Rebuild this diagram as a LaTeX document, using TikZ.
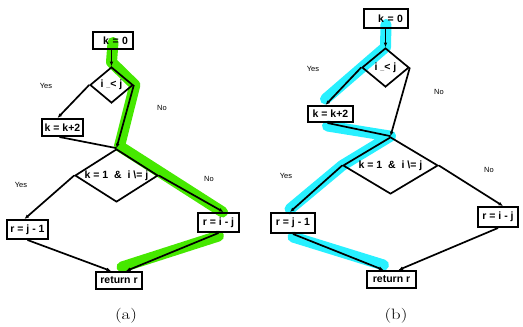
\documentclass[tikz,border=0pt]{standalone}
\usepackage{fontspec}
\setsansfont{Liberation Sans}
\usepackage{tikz}
\usetikzlibrary{arrows.meta}
\usetikzlibrary{shapes.geometric}
\definecolor{pathgreen}{RGB}{70,232,0}
\definecolor{pathcyan}{RGB}{40,240,255}
\pgfdeclarelayer{bg}
\pgfsetlayers{bg,main}
\tikzset{
    stmt/.style = {draw,line width=2pt,inner sep=0pt,minimum height=17pt,font=\fontsize{10.5}{12}\sffamily\bfseries},
    cond/.style = {diamond,draw,line width=1.7pt,inner sep=0pt,font=\fontsize{10.5}{12}\sffamily\bfseries},
    flow/.style = {line width=1.7pt,-{Latex[length=4.5pt,width=3.8pt]}},
    merge/.style = {line width=1.7pt},
    branch/.style = {font=\fontsize{7.5}{9}\sffamily},
    hl/.style = {line width=11pt,line cap=round,line join=round},
    subcap/.style = {font=\fontsize{15}{18}\selectfont,xscale=1.25}
}

\begin{document}
\begin{tikzpicture}[x=1pt,y=-1pt]
    \useasboundingbox (0,0) rectangle (523,327);
    % Run (a)
    \node[stmt,minimum width=40pt,text width=30pt,align=right] (k0a) at (113,40.5) {k = 0};
    \node[cond,minimum width=43pt,minimum height=36pt,aspect=1.2] (d1a) at (111.5,85) {i {\scriptsize\_}< j};
    \node[stmt,minimum width=41pt] (inca) at (62.5,127.5) {k = k+2};
    \node[cond,minimum width=83pt,minimum height=53pt,aspect=1.57] (d2a) at (116.5,175.5) {k = 1~~\&~~i \textbackslash= j};
    \node[stmt,minimum width=41pt,minimum height=19pt] (rja) at (27.5,229.5) {r = j - 1};
    \node[stmt,minimum width=41pt,minimum height=19pt] (ria) at (218.5,222.5) {r = i - j};
    \node[stmt,minimum width=46pt] (reta) at (119,280.5) {return r};
    \node[branch] (ya1) at (46,86) {Yes};
    \node[branch] (na1) at (162,108) {No};
    \node[branch] (ya2) at (21,185) {Yes};
    \node[branch] (na2) at (209,179) {No};
    \node[subcap] (capa) at (126,316) {(a)};
    % Run (b)
    \node[stmt,minimum width=44pt,minimum height=19pt,text width=34pt,align=right] (k0b) at (386,18.5) {k = 0};
    \node[cond,minimum width=47pt,minimum height=39pt,aspect=1.2] (d1b) at (385.5,67.5) {i {\scriptsize\_}< j};
    \node[stmt,minimum width=45pt,minimum height=16pt] (incb) at (330.5,114) {k = k+2};
    \node[cond,minimum width=95pt,minimum height=57pt,aspect=1.67] (d2b) at (390.5,165.5) {k = 1~~\&~~i \textbackslash= j};
    \node[stmt,minimum width=44pt,minimum height=20pt] (rjb) at (293,223) {r = j - 1};
    \node[stmt,minimum width=40pt,minimum height=20pt] (rib) at (498,217) {r = i - j};
    \node[stmt,minimum width=49pt] (retb) at (391.5,279.5) {return r};
    \node[branch] (yb1) at (313,69) {Yes};
    \node[branch] (nb1) at (439,92) {No};
    \node[branch] (yb2) at (286,176) {Yes};
    \node[branch] (nb2) at (489,170) {No};
    \node[subcap] (capb) at (396,316) {(b)};
    % Edges
    \foreach \run in {a,b} {
        \draw[flow] (k0\run.south -| d1\run.north) -- (d1\run.north);
        \draw[flow] (d1\run.west) -- ([xshift=-5pt]inc\run.north);
        \draw[flow] (d1\run.east) -- (d2\run.north);
        \draw[merge] ([xshift=-3pt]inc\run.south) -- (d2\run.north);
        \draw[flow] (d2\run.west) -- ([xshift=-3pt]rj\run.north);
        \draw[flow] (d2\run.east) -- ([xshift=5pt]ri\run.north);
        \draw[flow] (rj\run.south) -- ([xshift=-8pt]ret\run.north);
        \draw[flow] (ri\run.south) -- ([xshift=7pt]ret\run.north);
    }
    % Highlighted paths
    \begin{pgfonlayer}{bg}
        \draw[hl,pathgreen] ([yshift=-2pt]k0a.center) -- ([yshift=4pt]d1a.north) -- ([xshift=1pt]d1a.east)
            -- ([xshift=3pt,yshift=2pt]d2a.north) -- ([xshift=4pt]ria.north);
        \draw[hl,pathgreen] ([yshift=-3pt]ria.south) -- ([xshift=3pt,yshift=4pt]reta.north);
        \draw[hl,pathcyan] ([yshift=-6pt]k0b.center) -- (d1b.north) -- ([xshift=-5pt,yshift=6pt]incb.north);
        \draw[hl,pathcyan] ([xshift=-3pt,yshift=-3pt]incb.south) -- (d2b.north) -- (d2b.west)
            -- ([xshift=-3pt,yshift=3pt]rjb.north);
        \draw[hl,pathcyan] ([yshift=-3pt]rjb.south) -- ([xshift=-8pt,yshift=5pt]retb.north);
    \end{pgfonlayer}
\end{tikzpicture}
\end{document}
